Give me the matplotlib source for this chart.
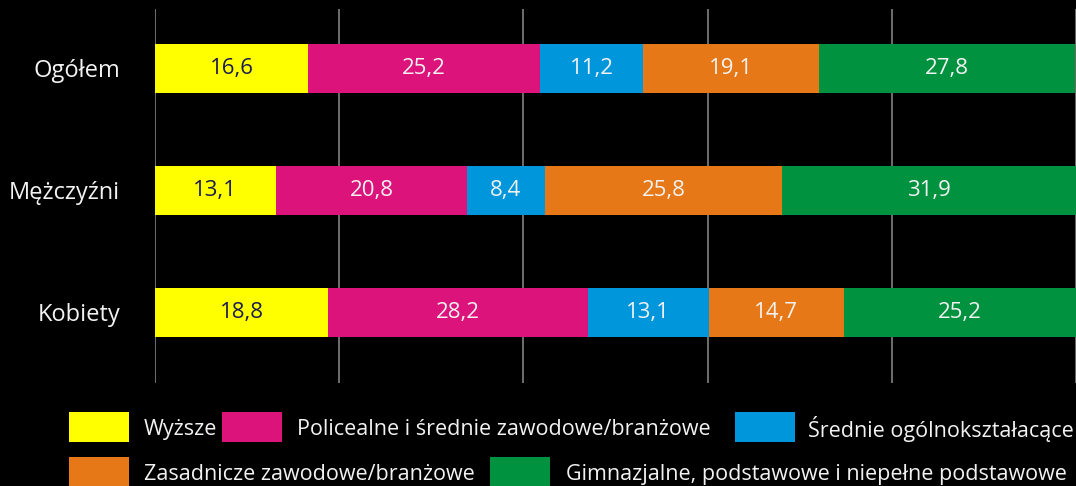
import matplotlib
matplotlib.use("Agg")
import matplotlib.pyplot as plt
from matplotlib.patches import Rectangle
import numpy as np

plt.rcParams['font.family'] = ['Open Sans', 'DejaVu Sans']

# dane
groups = ["Ogółem", "Mężczyźni", "Kobiety"]
levels = ["Wyższe",
          "Policealne i średnie zawodowe/branżowe",
          "Średnie ogólnokształacące",
          "Zasadnicze zawodowe/branżowe",
          "Gimnazjalne, podstawowe i niepełne podstawowe"]
wyzsze = [16.6, 13.1, 18.8]
policealne = [25.2, 20.8, 28.2]
srednie = [11.2, 8.4, 13.1]
zasadnicze = [19.1, 25.8, 14.7]
gimnazjalne = [27.8, 31.9, 25.2]
series = [wyzsze, policealne, srednie, zasadnicze, gimnazjalne]

colors = ["#FFFF00", "#DC137B", "#0096DC", "#E67817", "#00923F"]
label_colors = ["#1B1C4E", "#F2F2F2", "#F2F2F2", "#F2F2F2", "#F2F2F2"]

W, H = 1076, 486
fig = plt.figure(figsize=(W / 100, H / 100), dpi=100, facecolor="black")
ax = fig.add_axes([155 / W, 1 - 383 / H, 1 - 155 / W, (383 - 9) / H])
ax.set_facecolor("black")

y = np.arange(len(groups))
left = np.zeros(len(groups))
for vals, c, lc in zip(series, colors, label_colors):
    vals = np.array(vals)
    ax.barh(y, vals, left=left, height=0.40, color=c, zorder=3)
    for yi, l, v in zip(y, left, vals):
        ax.text(l + v / 2, yi, ("%.1f" % v).replace(".", ","), ha="center", va="center",
                color=lc, fontsize=16, zorder=4)
    left += vals

ax.set_xlim(0, 100)
ax.set_ylim(2.58, -0.488)
ax.set_xticks(np.arange(0, 101, 20))
ax.xaxis.grid(True, color="#8C8C8C", linewidth=1.1, zorder=0)
ax.tick_params(axis="x", length=0, labelbottom=False)
ax.set_yticks(y)
ax.set_yticklabels(groups, color="#F2F2F2", fontsize=17)
ax.tick_params(axis="y", length=0, pad=25)
for s in ax.spines.values():
    s.set_visible(False)

# legenda (ręcznie, w pikselach)
legend_items = [
    (69, 412, 144, 0),
    (222, 412, 297, 1),
    (735, 412, 808, 2),
    (69, 457, 144, 3),
    (490, 457, 566, 4),
]
for px, py, tx, i in legend_items:
    fig.patches.append(Rectangle((px / W, 1 - (py + 30) / H), 60 / W, 30 / H,
                                 transform=fig.transFigure, facecolor=colors[i],
                                 edgecolor="none"))
    fig.text(tx / W, 1 - (py + 17) / H, levels[i], color="#F2F2F2", fontsize=15.5,
             ha="left", va="center")

fig.savefig("out.png", dpi=100, facecolor="black")
